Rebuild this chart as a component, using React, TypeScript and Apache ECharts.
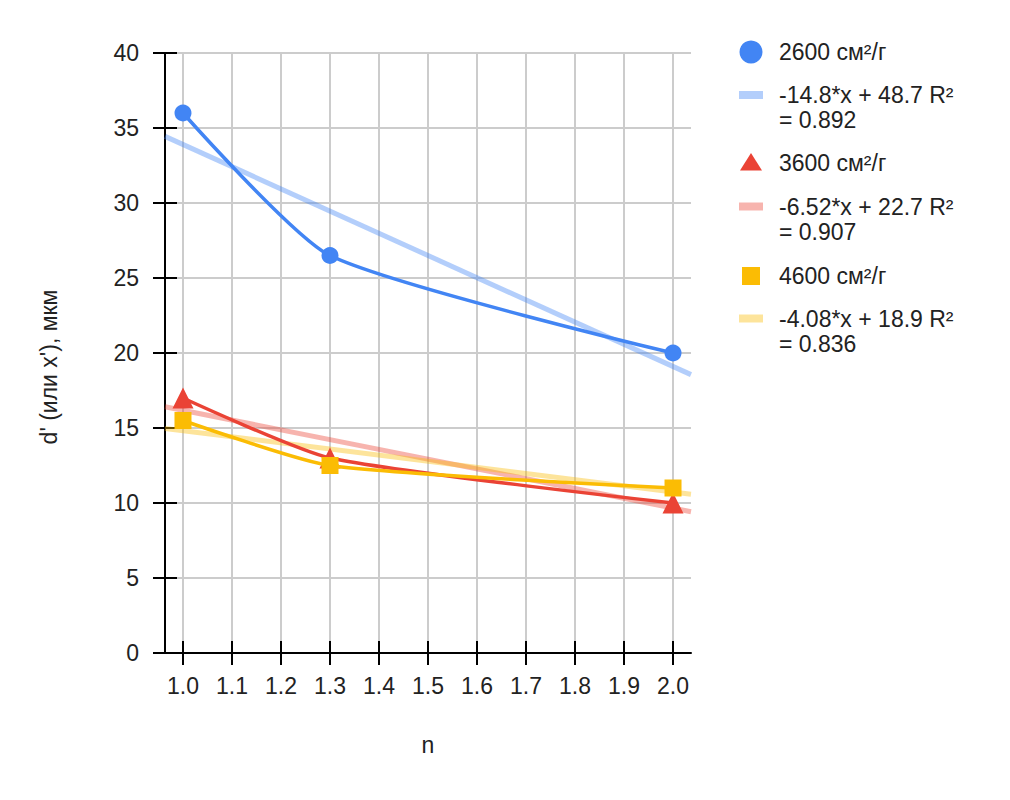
import React, { useEffect, useRef } from "react";
import * as echarts from "echarts";

// ---------- data ----------
const nValues = [1.0, 1.3, 2.0];
const d2600 = [36, 26.5, 20];
const d3600 = [17, 13, 10];
const d4600 = [15.5, 12.5, 11];
const seriesNames = ["2600 см²/г", "3600 см²/г", "4600 см²/г"];
const trendSlopes = [-14.8, -6.52, -4.08];
const trendIntercepts = [48.7, 22.7, 18.9];
const trendR2 = ["0.892", "0.907", "0.836"];
const xTickValues = [1.0, 1.1, 1.2, 1.3, 1.4, 1.5, 1.6, 1.7, 1.8, 1.9, 2.0];
const X_MIN = 0.9633;
const X_MAX = 2.0367;
const Y_MIN = 0;
const Y_MAX = 40;
const Y_STEP = 5;
const xAxisTitle = "n";
const yAxisTitle = "d' (или x'), мкм";

// ---------- styles ----------
const COLORS = ["#4285F4", "#EA4335", "#FBBC04"];
const TREND_COLORS = ["rgba(66,133,244,0.4)", "rgba(234,67,53,0.4)", "rgba(251,188,4,0.4)"];
const TREND_SOLID = ["#b3cefb", "#f7b4ae", "#fde49b"];
const FONT = "Arial, 'Liberation Sans', sans-serif";
const FS = 23;
const LINE_H = 25;
const TEXT = "#222222";
const GRID_COLOR = "#cccccc";

const seriesData = [d2600, d3600, d4600];
const symbols = ["circle", "triangle", "rect"];
const symbolSizes = [17, 21, 17];

function trendLabel(i: number) {
  return [`${trendSlopes[i]}*x + ${trendIntercepts[i]} R²`, `= ${trendR2[i]}`];
}

function buildOption() {
  const trendSeries = trendSlopes.map((a, i) => ({
    type: "line",
    name: trendLabel(i).join(" "),
    data: [X_MIN, X_MAX].map((x) => [x, a * x + trendIntercepts[i]]),
    symbol: "none",
    silent: true,
    lineStyle: { color: TREND_COLORS[i], width: 5 },
    z: 2,
  }));

  const mainSeries = seriesData.map((vals, i) => ({
    type: "line",
    name: seriesNames[i],
    data: vals.map((v, j) => [nValues[j], v]),
    smooth: 0.2,
    symbol: symbols[i],
    symbolSize: symbolSizes[i],
    showAllSymbol: true,
    itemStyle: { color: COLORS[i] },
    lineStyle: { color: COLORS[i], width: 3.5 },
    z: 3 + i,
  }));

  // legend (drawn as graphic elements)
  const LX = 751;
  const TX = 779;
  const rows = [
    { kind: 0, y: 52, lines: [seriesNames[0]] },
    { kind: -1, idx: 0, y: 95, lines: trendLabel(0) },
    { kind: 1, y: 162.5, lines: [seriesNames[1]] },
    { kind: -1, idx: 1, y: 206.5, lines: trendLabel(1) },
    { kind: 2, y: 276, lines: [seriesNames[2]] },
    { kind: -1, idx: 2, y: 318.5, lines: trendLabel(2) },
  ];
  const graphics: any[] = [];
  rows.forEach((r: any) => {
    if (r.kind === 0) {
      graphics.push({ type: "circle", shape: { cx: LX, cy: r.y, r: 11.5 }, style: { fill: COLORS[0] } });
    } else if (r.kind === 1) {
      graphics.push({
        type: "polygon",
        shape: { points: [[LX, r.y - 9.5], [LX - 11, r.y + 8], [LX + 11, r.y + 8]] },
        style: { fill: COLORS[1] },
      });
    } else if (r.kind === 2) {
      graphics.push({ type: "rect", shape: { x: LX - 9, y: r.y - 9, width: 18, height: 18 }, style: { fill: COLORS[2] } });
    } else {
      graphics.push({
        type: "rect",
        shape: { x: LX - 12, y: r.y - 4, width: 24, height: 8 },
        style: { fill: TREND_SOLID[r.idx] },
      });
    }
    graphics.push({
      type: "text",
      style: {
        text: r.lines.join("\n"),
        x: TX,
        y: r.y - LINE_H / 2,
        fill: TEXT,
        fontSize: FS,
        fontFamily: FONT,
        lineHeight: LINE_H,
        align: "left",
        verticalAlign: "top",
      },
    });
  });

  const tickLine = { color: "#000000", width: 2 };

  return {
    animation: false,
    backgroundColor: "#ffffff",
    textStyle: { fontFamily: FONT },
    grid: { left: 165, right: 319, top: 53, bottom: 147, containLabel: false },
    xAxis: [
      {
        type: "value",
        position: "bottom",
        min: X_MIN,
        max: X_MAX,
        name: xAxisTitle,
        nameLocation: "middle",
        nameGap: 80,
        nameTextStyle: { fontSize: FS, color: TEXT, fontFamily: FONT },
        axisLine: { show: true, onZero: false, lineStyle: tickLine },
        axisTick: { show: true, customValues: xTickValues, length: 12, lineStyle: tickLine },
        axisLabel: {
          customValues: xTickValues,
          formatter: (v: number) => v.toFixed(1),
          fontSize: FS,
          color: TEXT,
          fontFamily: FONT,
          margin: 21,
        },
        splitLine: { show: true, lineStyle: { color: GRID_COLOR, width: 2 } },
      },
      {
        type: "value",
        position: "bottom",
        min: X_MIN,
        max: X_MAX,
        axisLine: { show: false },
        axisTick: { show: true, inside: true, customValues: xTickValues, length: 12, lineStyle: tickLine },
        axisLabel: { show: false },
        splitLine: { show: false },
      },
    ],
    yAxis: [
      {
        type: "value",
        position: "left",
        min: Y_MIN,
        max: Y_MAX,
        interval: Y_STEP,
        name: yAxisTitle,
        nameLocation: "middle",
        nameRotate: 90,
        nameGap: 105,
        nameTextStyle: { fontSize: FS, color: TEXT, fontFamily: FONT, padding: [0, 28, 0, 0] },
        axisLine: { show: true, onZero: false, lineStyle: tickLine },
        axisTick: { show: true, length: 12, lineStyle: tickLine },
        axisLabel: { fontSize: FS, color: TEXT, fontFamily: FONT, margin: 26 },
        splitLine: { show: true, lineStyle: { color: GRID_COLOR, width: 2 } },
      },
      {
        type: "value",
        position: "left",
        min: Y_MIN,
        max: Y_MAX,
        interval: Y_STEP,
        axisLine: { show: false },
        axisTick: { show: true, inside: true, length: 12, lineStyle: tickLine },
        axisLabel: { show: false },
        splitLine: { show: false },
      },
    ],
    series: [...trendSeries, ...mainSeries],
    graphic: graphics,
  };
}

export default function App() {
  const ref = useRef<HTMLDivElement>(null);
  useEffect(() => {
    if (!ref.current) return;
    const chart = echarts.init(ref.current, null, { renderer: "svg" });
    chart.setOption(buildOption() as any);
    return () => chart.dispose();
  }, []);
  return (
    <div
      ref={ref}
      style={{ position: "fixed", left: 0, top: 0, width: 1010, height: 800, background: "#ffffff" }}
    />
  );
}
